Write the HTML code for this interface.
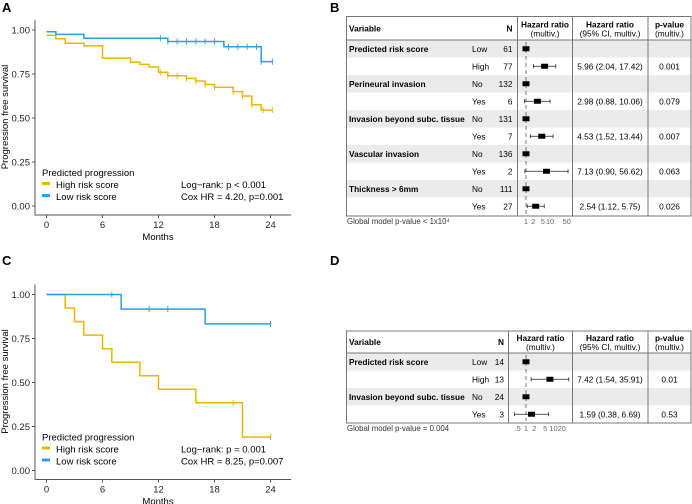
<!DOCTYPE html>
<html><head><meta charset="utf-8"><style>
html,body{margin:0;padding:0;background:#fff;}
svg{display:block;font-family:"Liberation Sans",Arial,sans-serif;}
</style></head><body>
<svg id="s" width="692" height="504" viewBox="0 0 692 504"></svg>
<script>
// ---- KM data panel A ----
const aHighT=[0,1,2,4,6,9,10,11,12,13,15,16,17,18,20,21,22,23];
const aHighS=[0.97,0.95,0.925,0.91,0.84,0.817,0.805,0.79,0.76,0.74,0.725,0.71,0.69,0.675,0.65,0.625,0.575,0.545];
const aHighC=[12.2,13,14,15,16,17,18,20,21,22,23.2,24.2];
const aLowT=[0,1,4,13,19,23];
const aLowS=[0.99,0.975,0.953,0.935,0.905,0.82];
const aLowC=[12.2,13,14,15,16,17,18,19.5,20.5,21.5,22.5,23,24.2];
// ---- KM data panel C ----
const cHighT=[0,2,3,4,6,7,10,12,16,21];
const cHighS=[1,0.923,0.846,0.769,0.692,0.615,0.538,0.462,0.385,0.19];
const cHighC=[20,24];
const cLowT=[0,8,17];
const cLowS=[1,0.917,0.833];
const cLowC=[7,11,13,24];
const xTicks=[0,6,12,18,24];
const yTicks=[0,0.25,0.5,0.75,1];
// ---- forest B ----
const bVars=["Predicted risk score","","Perineural invasion","","Invasion beyond subc. tissue","","Vascular invasion","","Thickness > 6mm",""];
const bLev=["Low","High","No","Yes","No","Yes","No","Yes","No","Yes"];
const bN=[61,77,132,6,131,7,136,2,111,27];
const bHR=[1,5.96,1,2.98,1,4.53,1,7.13,1,2.54];
const bLo=[null,2.04,null,0.88,null,1.52,null,0.90,null,1.12];
const bHi=[null,17.42,null,10.06,null,13.44,null,56.62,null,5.75];
const bP=["","0.001","","0.079","","0.007","","0.063","","0.026"];
const bTicks=[1,2,5,10,50];
// ---- forest D ----
const dVars=["Predicted risk score","","Invasion beyond subc. tissue",""];
const dLev=["Low","High","No","Yes"];
const dN=[14,13,24,3];
const dHR=[1,7.42,1,1.59];
const dLo=[null,1.54,null,0.38];
const dHi=[null,35.91,null,6.69];
const dP=["","0.01","","0.53"];
const dTicks=[0.5,1,2,5,10,20];
const dTickLab=[".5","1","2","5","10","20"];

const S=document.getElementById('s');
const NS="http://www.w3.org/2000/svg";
function el(tag,at,txt,parent){const e=document.createElementNS(NS,tag);for(const k in at)e.setAttribute(k,at[k]);if(txt!=null)e.textContent=txt;(parent||S).appendChild(e);return e;}
const YEL="#E7B800",BLU="#2E9FDF";
const FS=8.3;

function panelLabel(t,x,y){const e=el('text',{x:x,y:y,'font-size':13,'font-weight':'bold'},t);

}

function km(off,curves,lr,cox){
  const x0=46.5,x1=270.5,y1=off+30,y0=off+206;
  const X=t=>x0+(x1-x0)*t/24, Y=v=>y0-(y0-y1)*v;
  const g=el('g',{});
  
  
  el('line',{x1:35,y1:off+20,x2:35,y2:off+215,stroke:'#555','stroke-width':1},null,g);
  el('line',{x1:35,y1:off+215,x2:291,y2:off+215,stroke:'#555','stroke-width':1},null,g);
  yTicks.forEach(v=>{el('line',{x1:32,x2:35,y1:Y(v),y2:Y(v),stroke:'#555'},null,g);
    const t=el('text',{x:30,y:Y(v)+3.5,'font-size':9.5,'text-anchor':'end',fill:'#222'},v.toFixed(2),g);
    });
  xTicks.forEach(v=>{el('line',{x1:X(v),x2:X(v),y1:off+215,y2:off+218,stroke:'#555'},null,g);
    const t=el('text',{x:X(v),y:off+228,'font-size':9.5,'text-anchor':'middle',fill:'#222'},v,g);
    });
  const xt=el('text',{x:158,y:off+240,'font-size':9.5,'text-anchor':'middle'},'Months',g);
  
  const yt=el('text',{x:0,y:0,'font-size':9.5,'text-anchor':'middle',transform:`translate(8,${off+117}) rotate(-90)`},'Progression free survival',g);
  
  curves.forEach(c=>{
    let d=`M${X(c.T[0])},${Y(c.S[0])}`;
    for(let i=1;i<c.T.length;i++){d+=`H${X(c.T[i])}V${Y(c.S[i])}`;}
    d+=`H${X(c.end)}`;
    const p=el('path',{d:d,fill:'none',stroke:c.col,'stroke-width':1.5},null,g);
    
    c.C.forEach(t=>{let s=c.S[0];for(let i=0;i<c.T.length;i++)if(c.T[i]<=t)s=c.S[i];
      const m=el('line',{x1:X(t),x2:X(t),y1:Y(s)-3,y2:Y(s)+3,stroke:c.col,'stroke-width':1},null,g);
      });
  });
  const lg=el('g',{},null,g);
  
  el('text',{x:42,y:off+176,'font-size':9.5},'Predicted progression',lg);
  el('rect',{x:42,y:off+182,width:8,height:3,fill:YEL},null,lg);
  el('text',{x:56,y:off+188,'font-size':9.5},'High risk score',lg);
  el('rect',{x:42,y:off+194,width:8,height:3,fill:BLU},null,lg);
  el('text',{x:56,y:off+200,'font-size':9.5},'Low risk score',lg);
  const st=el('g',{},null,g);
  
  el('text',{x:181,y:off+188,'font-size':9.5},lr,st);
  el('text',{x:181,y:off+200,'font-size':9.5},cox,st);
}

function forest(top,hdrBot,bot,vars,lev,N,HR,LO,HI,P,ticks,tlab,sep1,ppd,footer,nRight){
  const g=el('g',{});
  
  const L=346.5,R=691,rh=17.5;
  const LX=v=>526+ppd*Math.log10(v);
  for(let i=0;i<vars.length;i++){if(i%2==0){const r=el('rect',{x:L,y:hdrBot+i*rh,width:R-L,height:rh,fill:'#ebebeb'},null,g);
    }}
  el('rect',{x:L,y:top,width:R-L,height:bot-top,fill:'none',stroke:'#777','stroke-width':1},null,g);
  el('line',{x1:L,x2:R,y1:hdrBot,y2:hdrBot,stroke:'#777'},null,g);
  [sep1,572.5,648].forEach(x=>el('line',{x1:x,x2:x,y1:top,y2:bot,stroke:'#777'},null,g));
  const hy=(top+hdrBot)/2;
  el('text',{x:349,y:hy+3,'font-size':FS,'font-weight':'bold'},'Variable',g);
  el('text',{x:nRight,y:hy+3,'font-size':FS,'font-weight':'bold','text-anchor':'end'},'N',g);
  const c1=(sep1+572.5)/2;
  el('text',{x:c1,y:hy-1,'font-size':FS,'font-weight':'bold','text-anchor':'middle'},'Hazard ratio',g);
  el('text',{x:c1,y:hy+8,'font-size':FS,'text-anchor':'middle'},'(multiv.)',g);
  el('text',{x:610,y:hy-1,'font-size':FS,'font-weight':'bold','text-anchor':'middle'},'Hazard ratio',g);
  el('text',{x:610,y:hy+8,'font-size':FS,'text-anchor':'middle'},'(95% CI, multiv.)',g);
  el('text',{x:669.5,y:hy-1,'font-size':FS,'font-weight':'bold','text-anchor':'middle'},'p-value',g);
  el('text',{x:669.5,y:hy+8,'font-size':FS,'text-anchor':'middle'},'(multiv.)',g);
  el('line',{x1:526,x2:526,y1:hdrBot+2,y2:bot-2,stroke:'#444','stroke-width':0.7,'stroke-dasharray':'4,3'},null,g);
  for(let i=0;i<vars.length;i++){
    const cy=hdrBot+i*rh+rh/2;
    if(vars[i]){const t=el('text',{x:349,y:cy+3,'font-size':FS,'font-weight':'bold'},vars[i],g);
      }
    el('text',{x:472,y:cy+3,'font-size':FS},lev[i],g);
    el('text',{x:nRight,y:cy+3,'font-size':FS,'text-anchor':'end'},N[i],g);
    if(LO[i]!=null){const ci=el('line',{x1:LX(LO[i]),x2:LX(HI[i]),y1:cy,y2:cy,stroke:'#222','stroke-width':0.8},null,g);
      
      [LO[i],HI[i]].forEach(v=>el('line',{x1:LX(v),x2:LX(v),y1:cy-2,y2:cy+2,stroke:'#222','stroke-width':0.8},null,g));
      el('text',{x:610,y:cy+3,'font-size':FS,'text-anchor':'middle'},`${HR[i].toFixed(2)} (${LO[i].toFixed(2)}, ${HI[i].toFixed(2)})`,g);}
    const b=el('rect',{x:LX(HR[i])-3.5,y:cy-2.5,width:7,height:5,fill:'#000'},null,g);
    
    if(P[i])el('text',{x:669.5,y:cy+3,'font-size':FS,'text-anchor':'middle'},P[i],g);
  }
  ticks.forEach((v,i)=>{const t=el('text',{x:LX(v),y:bot+8,'font-size':7.5,'text-anchor':'middle',fill:'#666'},tlab[i],g);
    });
  const f=el('text',{x:347,y:bot+8,'font-size':7.8,fill:'#333'},footer,g);
  
}

panelLabel('A',2,12);panelLabel('B',330,12);panelLabel('C',2,265);panelLabel('D',330,265);
km(0,[{T:aHighT,S:aHighS,C:aHighC,col:YEL,end:24.2,name:'high-risk'},{T:aLowT,S:aLowS,C:aLowC,col:BLU,end:24.2,name:'low-risk'}],
  'Log\u2212rank: p < 0.001','Cox HR = 4.20, p=0.001');
km(264.5,[{T:cHighT,S:cHighS,C:cHighC,col:YEL,end:24,name:'high-risk'},{T:cLowT,S:cLowS,C:cLowC,col:BLU,end:24,name:'low-risk'}],
  'Log\u2212rank: p = 0.001','Cox HR = 8.25, p=0.007');
forest(16.5,40,216,bVars,bLev,bN,bHR,bLo,bHi,bP,bTicks,bTicks.map(String),517.5,24,'Global model p-value < 1x10\u2074',512.5);
forest(331,353,423,dVars,dLev,dN,dHR,dLo,dHi,dP,dTicks,dTickLab,508.5,27.5,'Global model p-value = 0.004',504);
</script>
</body></html>
